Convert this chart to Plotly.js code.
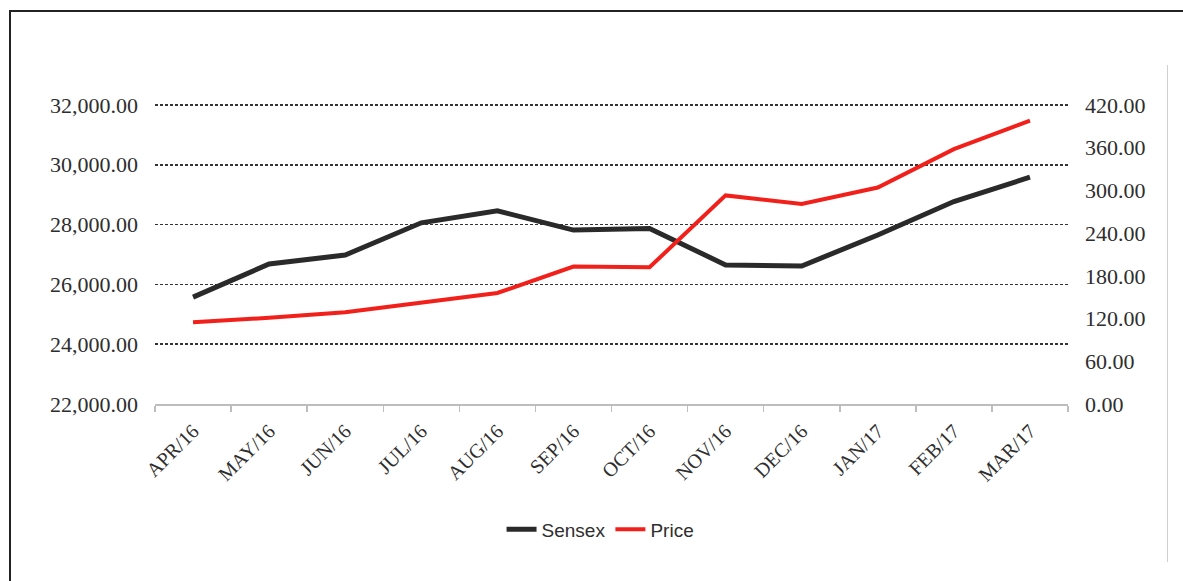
<!DOCTYPE html>
<html>
<head>
<meta charset="utf-8">
<script src="https://cdn.plot.ly/plotly-3.0.1.min.js"></script>
<style>
  html, body { margin: 0; padding: 0; background: #fff; }
  #chart { width: 1183px; height: 581px; }
  #frame { position: absolute; left: 9px; top: 10px; width: 1300px; height: 700px;
           border-top: 2px solid #222; border-left: 2px solid #222; pointer-events: none; }
  #rline { position: absolute; left: 1167px; top: 65px; width: 1px; height: 497px;
           background: #d0d0d0; pointer-events: none; }
</style>
</head>
<body>
<div id="chart"></div>
<div id="frame"></div>
<div id="rline"></div>
<script>
const months = ["APR/16","MAY/16","JUN/16","JUL/16","AUG/16","SEP/16","OCT/16","NOV/16","DEC/16","JAN/17","FEB/17","MAR/17"];
const sensex = [25573, 26683, 26983, 28060, 28460, 27817, 27873, 26650, 26617, 27650, 28770, 29585];
const price  = [115, 121, 129, 142, 156, 193, 192, 293, 281, 304, 358, 398];
const leftTicks  = [22000, 24000, 26000, 28000, 30000, 32000];
const rightTicks = [0, 60, 120, 180, 240, 300, 360, 420];

const fmt = v => v.toLocaleString('en-US', {minimumFractionDigits: 2, maximumFractionDigits: 2});

const traces = [
  { x: months, y: sensex, name: "Sensex", type: "scatter", mode: "lines",
    line: { color: "#2a2a2a", width: 5 }, yaxis: "y" },
  { x: months, y: price, name: "Price", type: "scatter", mode: "lines",
    line: { color: "#f2201a", width: 4 }, yaxis: "y2" }
];

const tickFont = { family: "Liberation Serif, Times New Roman, serif", size: 22, color: "#2e2e2e" };

const layout = {
  width: 1183, height: 581,
  margin: { l: 155, r: 115, t: 101.5, b: 176.5 },
  paper_bgcolor: "#fff", plot_bgcolor: "#fff",
  showlegend: true,
  legend: { orientation: "h", x: 0.488, xanchor: "center", y: -0.415, yanchor: "middle",
            font: { family: "Liberation Sans, Arial, sans-serif", size: 19, color: "#2e2e2e" },
            tracegroupgap: 0 },
  xaxis: {
    type: "category", categoryorder: "array", categoryarray: months,
    range: [-0.5, months.length - 0.5],
    tickson: "boundaries", ticks: "outside", ticklen: 6, tickcolor: "#bdbdbd", tickwidth: 1.5,
    showline: true, linecolor: "#bdbdbd", linewidth: 1.5,
    showgrid: false, zeroline: false,
    tickangle: -45,
    ticklabelstandoff: 6,
    tickfont: { family: "Liberation Serif, Times New Roman, serif", size: 20, color: "#2e2e2e" }
  },
  yaxis: {
    range: [22000, 32100], tickvals: leftTicks, ticktext: leftTicks.map(fmt),
    showgrid: true, gridcolor: "#333333", gridwidth: 1.6, griddash: "3px,2px",
    zeroline: false, showline: false, ticks: "",
    ticklabelstandoff: 16,
    tickfont: tickFont
  },
  yaxis2: {
    overlaying: "y", side: "right",
    range: [0, 424.2], tickvals: rightTicks, ticktext: rightTicks.map(fmt),
    showgrid: false, zeroline: false, showline: false, ticks: "",
    ticklabelstandoff: 16,
    tickfont: tickFont
  }
};

Plotly.newPlot("chart", traces, layout, { displayModeBar: false, staticPlot: true });
</script>
</body>
</html>
